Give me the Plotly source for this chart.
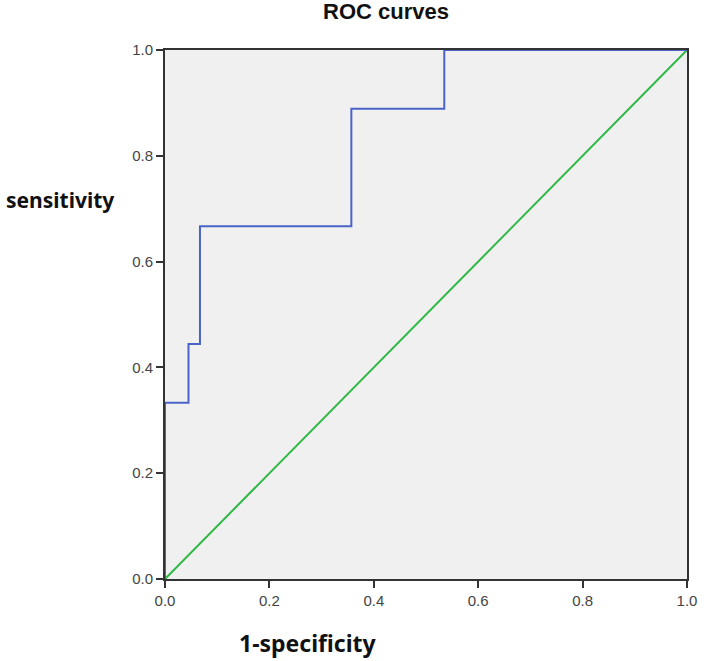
import plotly.graph_objects as go

# ROC curve step points (1-specificity, sensitivity)
fpr = [0.0, 0.0, 0.045, 0.045, 0.067, 0.067, 0.357, 0.357, 0.535, 0.535, 1.0]
tpr = [0.0, 0.333, 0.333, 0.444, 0.444, 0.667, 0.667, 0.889, 0.889, 1.0, 1.0]
ref_x = [0.0, 1.0]
ref_y = [0.0, 1.0]
tick_vals = [0.0, 0.2, 0.4, 0.6, 0.8, 1.0]
tick_text = ["0.0", "0.2", "0.4", "0.6", "0.8", "1.0"]

W, H = 709, 661
ML, MR, MT, MB = 165, 14, 50, 82

FONT = "Arial, Liberation Sans, sans-serif"
FONT2 = "Noto Sans, Open Sans, sans-serif"

fig = go.Figure()
fig.add_trace(go.Scatter(x=ref_x, y=ref_y, mode="lines",
                         line=dict(color="#2fb845", width=2), hoverinfo="skip"))
fig.add_trace(go.Scatter(x=fpr, y=tpr, mode="lines",
                         line=dict(color="#4a63c8", width=2), hoverinfo="skip"))

axis_common = dict(range=[0, 1], tickvals=tick_vals, ticktext=tick_text,
                   showgrid=False, zeroline=False, showline=True, linecolor="#333333",
                   linewidth=2, mirror=True, ticks="outside", ticklen=7, tickwidth=2,
                   tickcolor="#333333",
                   tickfont=dict(family=FONT, size=15, color="#444444"))

pw = W - ML - MR
ph = H - MT - MB
anns = []
px_specs = [
    ("<b>ROC curves</b>", 389, 12, 22, "center", FONT),
    ("<b>sensitivity</b>", 2, 200, 21, "left", FONT2),
    ("<b>1-specificity</b>", 310, 643, 23, "center", FONT2),
]
for text, px, py, size, anchor, fam in px_specs:
    anns.append(dict(text=text, x=(px - ML) / pw, y=(H - MB - py) / ph,
                     xref="paper", yref="paper", xanchor=anchor, yanchor="middle",
                     showarrow=False,
                     font=dict(family=fam, size=size, color="#111111")))

fig.update_layout(
    width=W, height=H,
    margin=dict(l=ML, r=MR, t=MT, b=MB),
    paper_bgcolor="white", plot_bgcolor="#f0f0f0",
    showlegend=False,
    xaxis=axis_common,
    yaxis=axis_common,
    annotations=anns,
)

fig.write_html("out.html", config={"displayModeBar": False},
               post_script="document.body.style.margin='0';document.body.style.overflow='hidden';")
